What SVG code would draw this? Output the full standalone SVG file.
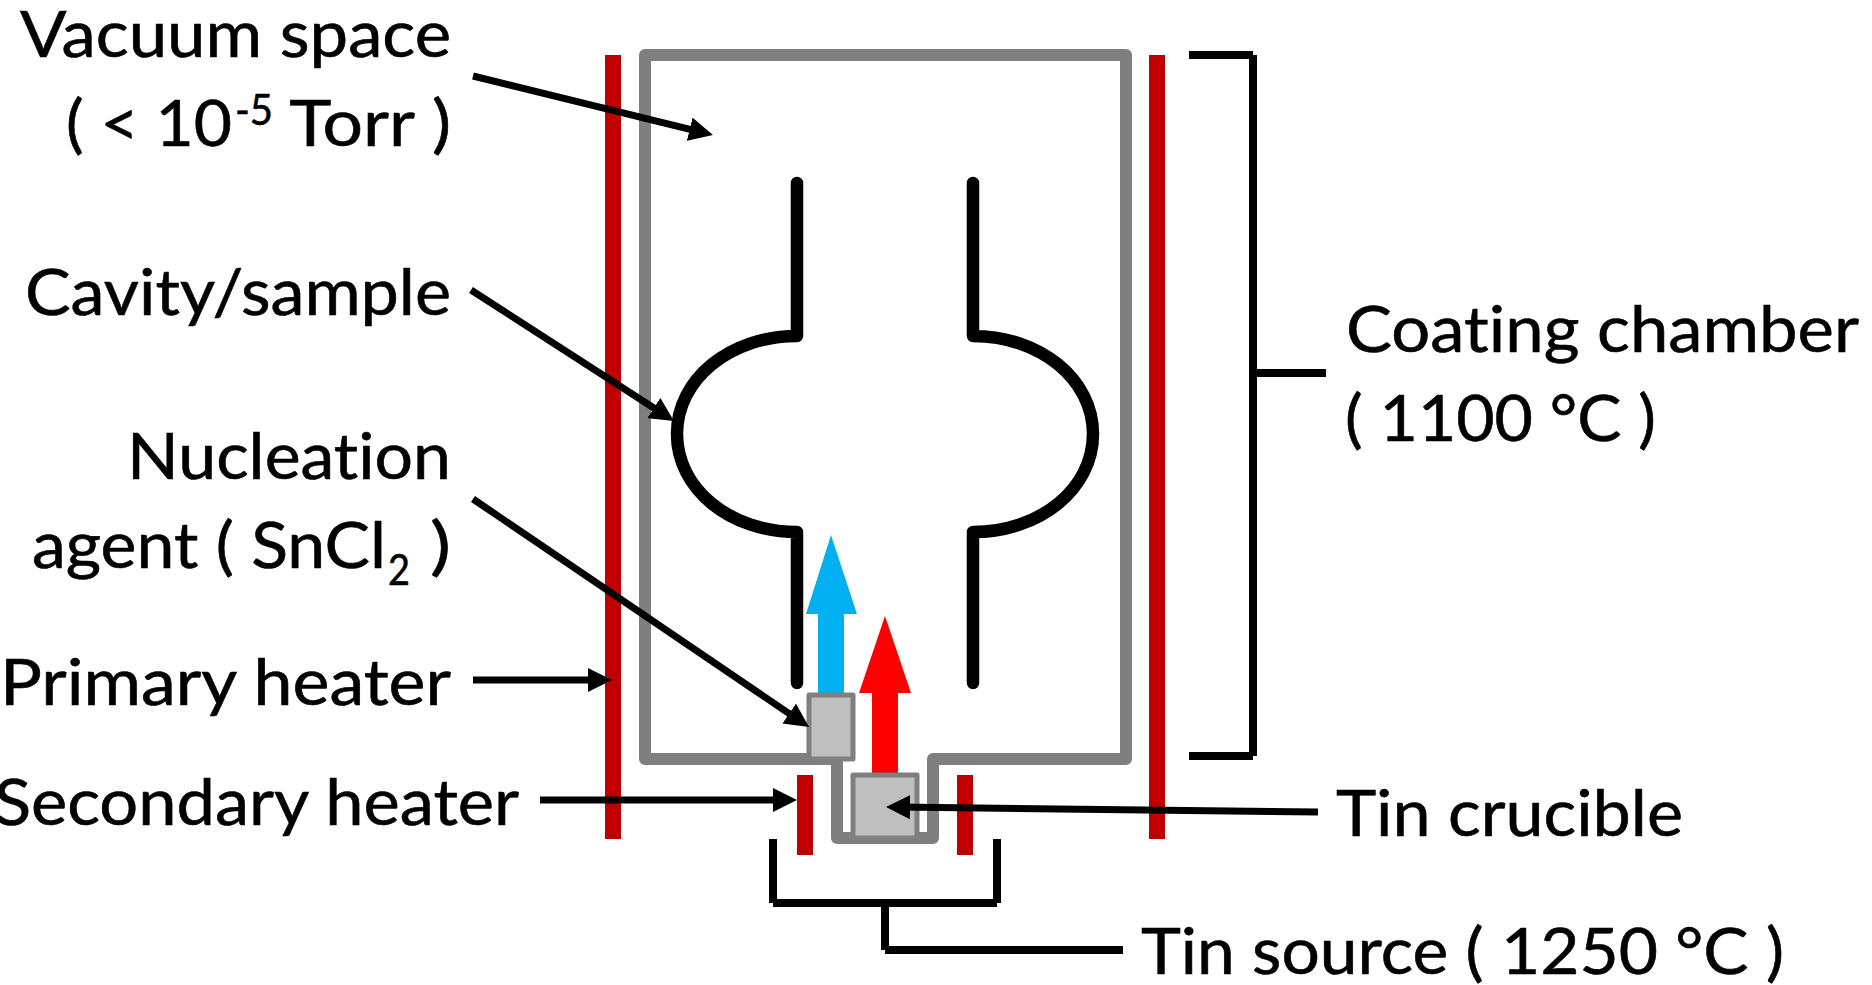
<svg xmlns="http://www.w3.org/2000/svg" width="1872" height="985" viewBox="0 0 1872 985">
<style>
text{font-family:"Lato","Open Sans","Liberation Sans",sans-serif;font-size:64px;fill:#000;stroke:#000;stroke-width:.6;font-variant-ligatures:none}
.sup{font-size:42px}
.heater{fill:#c00000}
.wall{fill:none;stroke:#7f7f7f;stroke-width:12;stroke-linejoin:round}
.box{fill:#bfbfbf;stroke:#7f7f7f;stroke-width:5;stroke-linejoin:round}
.cav{fill:none;stroke:#000;stroke-width:12.5;stroke-linecap:round;stroke-linejoin:round}
.br{fill:none;stroke:#000;stroke-width:8}
.lead{fill:none;stroke:#000;stroke-width:7;marker-end:url(#ah)}
</style>
<defs>
<marker id="ah" markerUnits="userSpaceOnUse" markerWidth="24" markerHeight="24" refX="12" refY="12" orient="auto"><path d="M0 0L24 12L0 24Z" fill="#000"/></marker>
</defs>
<rect width="1872" height="985" fill="#fff"/>
<g id="primary-heater"><rect class="heater" x="605" y="55" width="16" height="784"/><rect class="heater" x="1149" y="55" width="16" height="784"/></g>
<g id="chamber"><path class="wall" d="M645 55H1126V759H933V838H837V759H645Z"/></g>
<g id="cavity"><path class="cav" d="M797 183V336C730 336 677 379 677 434C677 489 730 532 797 532V683"/><path class="cav" d="M973 183V336C1040 336 1093 379 1093 434C1093 489 1040 532 973 532V683"/></g>
<g id="secondary-heater"><rect class="heater" x="797" y="775" width="16" height="80"/><rect class="heater" x="957" y="775" width="16" height="80"/></g>
<g id="blue-flow"><path fill="#00b0f0" d="M818 695V614H806L831 535L857 614H844V695Z"/></g>
<g id="red-flow"><path fill="#f00" d="M872 775V693H859L885 616L911 693H898V775Z"/></g>
<g id="nucleation-agent"><rect class="box" x="809" y="695" width="44" height="64"/></g>
<g id="tin-crucible"><rect class="box" x="853" y="775" width="64" height="63"/></g>
<g id="connectors">
<path class="lead" d="M473 76L701.3 132.1"/>
<path class="lead" d="M471 290L663.9 414.5"/>
<path class="lead" d="M473 499L799.1 720.3"/>
<path class="lead" d="M473 680H600"/>
<path class="lead" d="M540 800H785"/>
<path class="lead" d="M1318 812L898 807.1"/>
<path class="br" d="M773 839V903M773 903H997M997 839V903M885 903V950M885 950H1123"/>
<path class="br" d="M1189 55H1253M1253 55V756M1189 756H1253M1253 373H1326"/>
</g>
<g id="labels">
<text x="20" y="57" textLength="431" lengthAdjust="spacingAndGlyphs">Vacuum space</text>
<text x="66" y="146"><tspan textLength="166" lengthAdjust="spacingAndGlyphs">( &lt; 10</tspan><tspan class="sup" x="235" y="125" textLength="38" lengthAdjust="spacingAndGlyphs">-5</tspan><tspan x="273" y="146" textLength="178" lengthAdjust="spacingAndGlyphs"> Torr )</tspan></text>
<text x="25" y="315" textLength="426" lengthAdjust="spacingAndGlyphs">Cavity/sample</text>
<text x="127" y="479" textLength="324" lengthAdjust="spacingAndGlyphs">Nucleation</text>
<text x="32" y="568"><tspan textLength="354" lengthAdjust="spacingAndGlyphs">agent ( SnCl</tspan><tspan class="sup" x="388" y="585" textLength="22" lengthAdjust="spacingAndGlyphs">2</tspan><tspan x="410" y="568" textLength="41" lengthAdjust="spacingAndGlyphs"> )</tspan></text>
<text x="0" y="705" textLength="451" lengthAdjust="spacingAndGlyphs">Primary heater</text>
<text x="-6" y="825" textLength="525" lengthAdjust="spacingAndGlyphs">Secondary heater</text>
<text x="1346" y="352" textLength="513" lengthAdjust="spacingAndGlyphs">Coating chamber</text>
<text x="1345" y="441" textLength="311" lengthAdjust="spacingAndGlyphs">( 1100 °C )</text>
<text x="1336" y="836" textLength="347" lengthAdjust="spacingAndGlyphs">Tin crucible</text>
<text x="1141" y="974" textLength="643" lengthAdjust="spacingAndGlyphs">Tin source ( 1250 °C )</text>
</g>
</svg>
